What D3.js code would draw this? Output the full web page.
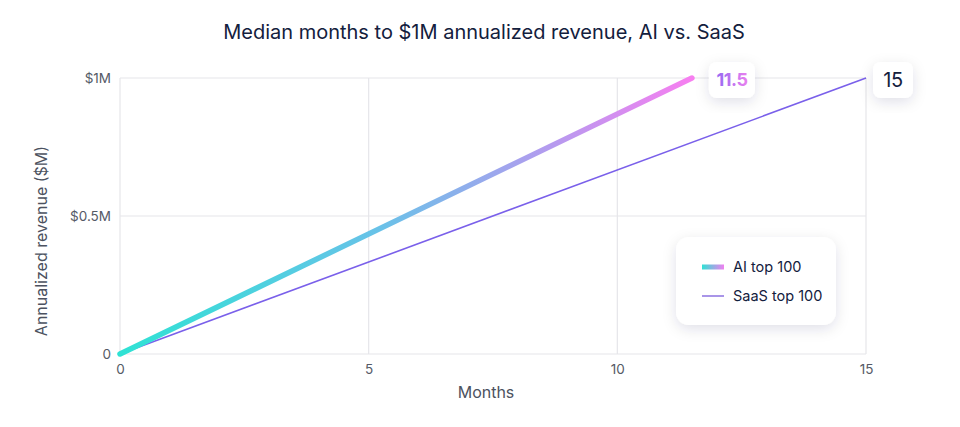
<!DOCTYPE html>
<html>
<head>
<meta charset="utf-8">
<script src="https://cdn.jsdelivr.net/npm/d3@7"></script>
<style>
  body { margin: 0; background: #fff; }
  svg { display: block; font-family: Inter, "Noto Sans", sans-serif; }
</style>
</head>
<body>
<div id="chart"></div>
<script>
// data
let aiMonths = [0, 11.5];
let aiRevenue = [0, 1];
let saasMonths = [0, 15];
let saasRevenue = [0, 1];
let xTicks = [0, 5, 10, 15];
let yTicks = [0, 0.5, 1];
let yTickLabels = ['0', '$0.5M', '$1M'];
let seriesNames = ['AI top 100', 'SaaS top 100'];

let width = 960, height = 427;
let svg = d3.select('#chart').append('svg')
    .attr('width', width).attr('height', height);

let x = d3.scaleLinear().domain([0, 15]).range([120, 866]);
let y = d3.scaleLinear().domain([0, 1]).range([354, 78]);

let defs = svg.append('defs');
let shadow = defs.append('filter').attr('id', 'shadow')
    .attr('x', '-40%').attr('y', '-40%').attr('width', '180%').attr('height', '180%');
shadow.append('feDropShadow')
    .attr('dx', 0).attr('dy', 4).attr('stdDeviation', 7)
    .attr('flood-color', '#1a2040').attr('flood-opacity', 0.12);

let aiGrad = defs.append('linearGradient').attr('id', 'aiGrad')
    .attr('gradientUnits', 'userSpaceOnUse')
    .attr('x1', x(aiMonths[0])).attr('y1', y(aiRevenue[0]))
    .attr('x2', x(aiMonths[1])).attr('y2', y(aiRevenue[1]));
aiGrad.append('stop').attr('offset', '0%').attr('stop-color', '#2fe2d4');
aiGrad.append('stop').attr('offset', '45%').attr('stop-color', '#68c2e8');
aiGrad.append('stop').attr('offset', '75%').attr('stop-color', '#b49bef');
aiGrad.append('stop').attr('offset', '100%').attr('stop-color', '#f77ff0');

let legGrad = defs.append('linearGradient').attr('id', 'legGrad');
legGrad.append('stop').attr('offset', '0%').attr('stop-color', '#2fe2d4');
legGrad.append('stop').attr('offset', '100%').attr('stop-color', '#f07ff0');

let txtGrad = defs.append('linearGradient').attr('id', 'txtGrad');
txtGrad.append('stop').attr('offset', '0%').attr('stop-color', '#9669f2');
txtGrad.append('stop').attr('offset', '100%').attr('stop-color', '#e880ef');

// title
svg.append('text')
    .attr('x', 484).attr('y', 39)
    .attr('text-anchor', 'middle')
    .attr('font-size', 20)
    .attr('fill', '#13203d')
    .text('Median months to $1M annualized revenue, AI vs. SaaS');

// grid
let grid = svg.append('g').attr('stroke', '#e6e6ea').attr('stroke-width', 1.2);
grid.selectAll('.gx').data(xTicks).enter().append('line')
    .attr('x1', d => x(d)).attr('x2', d => x(d))
    .attr('y1', y(1)).attr('y2', y(0));
grid.selectAll('.gy').data(yTicks).enter().append('line')
    .attr('x1', x(0)).attr('x2', x(15))
    .attr('y1', d => y(d)).attr('y2', d => y(d));

// axes
let xAxis = svg.append('g')
    .attr('transform', 'translate(0,' + y(0) + ')')
    .call(d3.axisBottom(x).tickValues(xTicks).tickSize(0).tickPadding(10));
let yAxis = svg.append('g')
    .attr('transform', 'translate(' + x(0) + ',0)')
    .call(d3.axisLeft(y).tickValues(yTicks).tickSize(0).tickPadding(9)
        .tickFormat((d, i) => yTickLabels[i]));
[xAxis, yAxis].forEach(a => {
    a.select('.domain').remove();
    a.selectAll('text').attr('font-size', 13.5).attr('fill', '#555a66')
        .attr('font-family', 'Inter, "Noto Sans", sans-serif');
});

svg.append('text')
    .attr('x', 486).attr('y', 398)
    .attr('text-anchor', 'middle')
    .attr('font-size', 16).attr('fill', '#4c5260')
    .text('Months');
svg.append('text')
    .attr('transform', 'translate(47,' + 241 + ') rotate(-90)')
    .attr('text-anchor', 'middle')
    .attr('font-size', 16).attr('fill', '#4c5260')
    .text('Annualized revenue ($M)');

// lines
let line = d3.line().x(d => x(d[0])).y(d => y(d[1]));
svg.append('path')
    .datum(d3.zip(saasMonths, saasRevenue))
    .attr('d', line)
    .attr('fill', 'none')
    .attr('stroke', '#7a60ea')
    .attr('stroke-width', 1.6);
svg.append('path')
    .datum(d3.zip(aiMonths, aiRevenue))
    .attr('d', line)
    .attr('fill', 'none')
    .attr('stroke', 'url(#aiGrad)')
    .attr('stroke-width', 5.5)
    .attr('stroke-linecap', 'round');

// end labels
let ends = [
    {v: aiMonths[1], r: aiRevenue[1], w: 46, dx: 40, fill: 'url(#txtGrad)', weight: 700, size: 18},
    {v: saasMonths[1], r: saasRevenue[1], w: 40, dx: 27, fill: '#13203d', weight: 400, size: 20}
];
let lab = svg.selectAll('.endlab').data(ends).enter().append('g')
    .attr('transform', d => 'translate(' + (x(d.v) + d.dx) + ',' + (y(d.r) + 2) + ')');
lab.append('rect')
    .attr('x', d => -d.w / 2).attr('y', -18)
    .attr('width', d => d.w).attr('height', 36)
    .attr('rx', 8)
    .attr('fill', '#fff')
    .attr('filter', 'url(#shadow)');
lab.append('text')
    .attr('text-anchor', 'middle').attr('dy', '0.36em')
    .attr('font-size', d => d.size)
    .attr('font-weight', d => d.weight)
    .attr('letter-spacing', '-0.5')
    .attr('fill', d => d.fill)
    .text(d => String(d.v));

// legend
let leg = svg.append('g').attr('transform', 'translate(676,237)');
leg.append('rect')
    .attr('width', 160).attr('height', 88).attr('rx', 13)
    .attr('fill', '#fff').attr('filter', 'url(#shadow)');
let items = leg.selectAll('.item').data(seriesNames).enter().append('g')
    .attr('transform', (d, i) => 'translate(26,' + (30 + i * 29) + ')');
items.append('rect')
    .attr('x', 0).attr('width', 22)
    .attr('y', (d, i) => i == 0 ? -2.5 : -0.9)
    .attr('height', (d, i) => i == 0 ? 5 : 1.8)
    .attr('fill', (d, i) => i == 0 ? 'url(#legGrad)' : '#a08ae6');
items.append('text')
    .attr('x', 31).attr('dy', '0.36em')
    .attr('font-size', 14.5).attr('fill', '#13203d')
    .text(d => d);
</script>
</body>
</html>
